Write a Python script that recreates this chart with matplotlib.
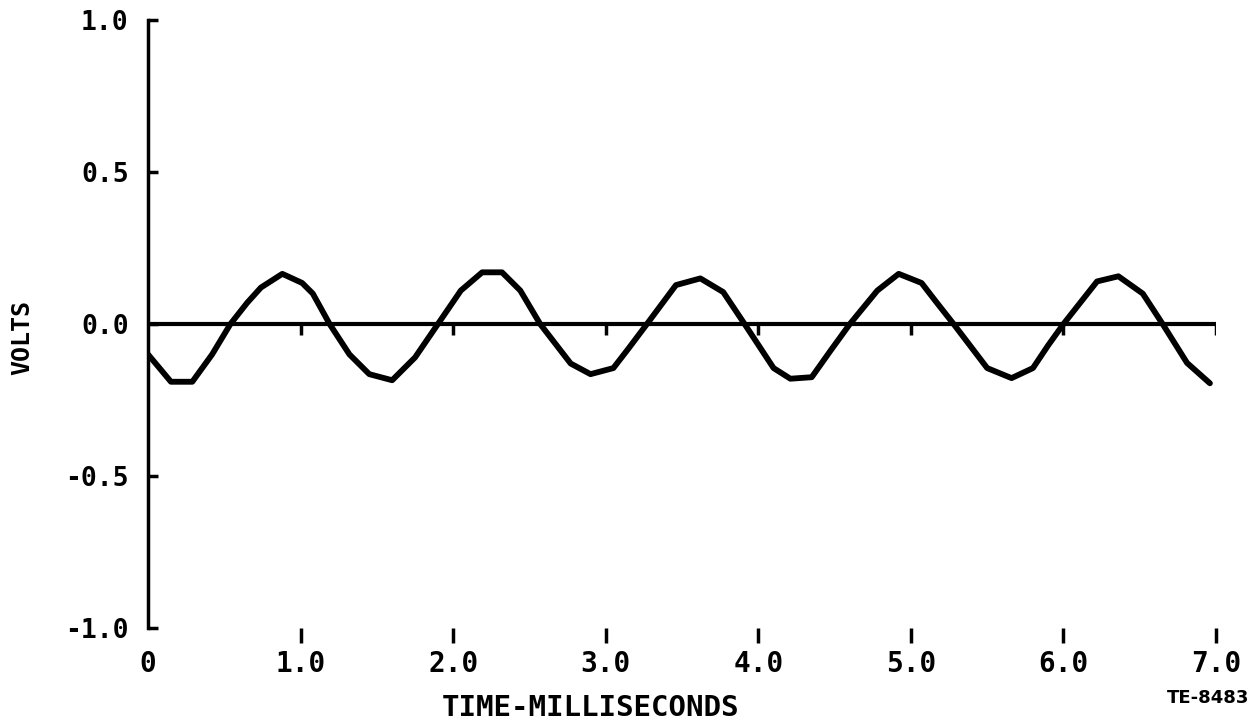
import matplotlib
matplotlib.use("Agg")
import matplotlib.pyplot as plt

# waveform vertices (time in ms, volts)
time_ms = [0.0, 0.15, 0.29, 0.42, 0.54, 0.65, 0.74, 0.88, 1.01, 1.08,
           1.19, 1.32, 1.45, 1.60, 1.75, 1.90, 2.05, 2.19, 2.32, 2.44,
           2.57, 2.77, 2.90, 3.05, 3.15, 3.27, 3.46, 3.62, 3.77, 3.91,
           4.10, 4.21, 4.35, 4.47, 4.60, 4.78, 4.92, 5.07, 5.17, 5.28,
           5.50, 5.66, 5.80, 5.90, 6.00, 6.22, 6.36, 6.52, 6.65, 6.81, 6.96]
volts = [-0.10, -0.19, -0.19, -0.10, 0.0, 0.07, 0.12, 0.165, 0.135, 0.10,
         0.0, -0.10, -0.165, -0.185, -0.11, 0.0, 0.11, 0.17, 0.17, 0.11,
         0.0, -0.13, -0.165, -0.145, -0.08, 0.0, 0.128, 0.15, 0.105, 0.0,
         -0.145, -0.18, -0.175, -0.09, 0.0, 0.11, 0.165, 0.135, 0.07, 0.0,
         -0.145, -0.178, -0.145, -0.07, 0.0, 0.14, 0.157, 0.10, 0.0, -0.128, -0.195]

x_ticks = [0, 1, 2, 3, 4, 5, 6, 7]
x_labels = ["0", "1.0", "2.0", "3.0", "4.0", "5.0", "6.0", "7.0"]
y_ticks = [-1.0, -0.5, 0.0, 0.5, 1.0]
y_labels = ["-1.0", "-0.5", "0.0", "0.5", "1.0"]

FONT = "DejaVu Sans Mono"

fig = plt.figure(figsize=(12.6, 7.25), dpi=100)
ax = fig.add_axes([0.1175, 0.1338, 0.8476, 0.8386])

ax.plot(time_ms, volts, color="black", lw=4.2, solid_joinstyle="round",
        solid_capstyle="round")
ax.axhline(0, color="black", lw=3)
# small tick marks hanging below the zero line
ax.vlines(x_ticks[1:], -0.035, 0, color="black", lw=2.5)

ax.set_xlim(0, 7)
ax.set_ylim(-1, 1)

for s in ["top", "right", "bottom"]:
    ax.spines[s].set_visible(False)
ax.spines["left"].set_linewidth(2.5)

ax.set_yticks(y_ticks)
ax.set_yticklabels(y_labels, fontfamily=FONT, fontweight="bold", fontsize=19)
ax.tick_params(axis="y", direction="in", length=7, width=2.5, pad=14)

ax.set_xticks(x_ticks)
ax.set_xticklabels(x_labels, fontfamily=FONT, fontweight="bold", fontsize=20)
ax.tick_params(axis="x", direction="out", length=11, width=2.5, pad=5)
ax.xaxis.get_major_ticks()[0].tick1line.set_visible(False)

fig.text(0.469, 0.023, "TIME-MILLISECONDS", ha="center", va="center",
         fontfamily=FONT, fontweight="bold", fontsize=21)
fig.text(0.018, 0.535, "VOLTS", ha="center", va="center", rotation=90,
         fontfamily=FONT, fontweight="bold", fontsize=18)
fig.text(0.959, 0.037, "TE-8483", ha="center", va="center",
         fontfamily="DejaVu Sans", fontweight="bold", fontsize=13)

fig.savefig("out.png", dpi=100)
